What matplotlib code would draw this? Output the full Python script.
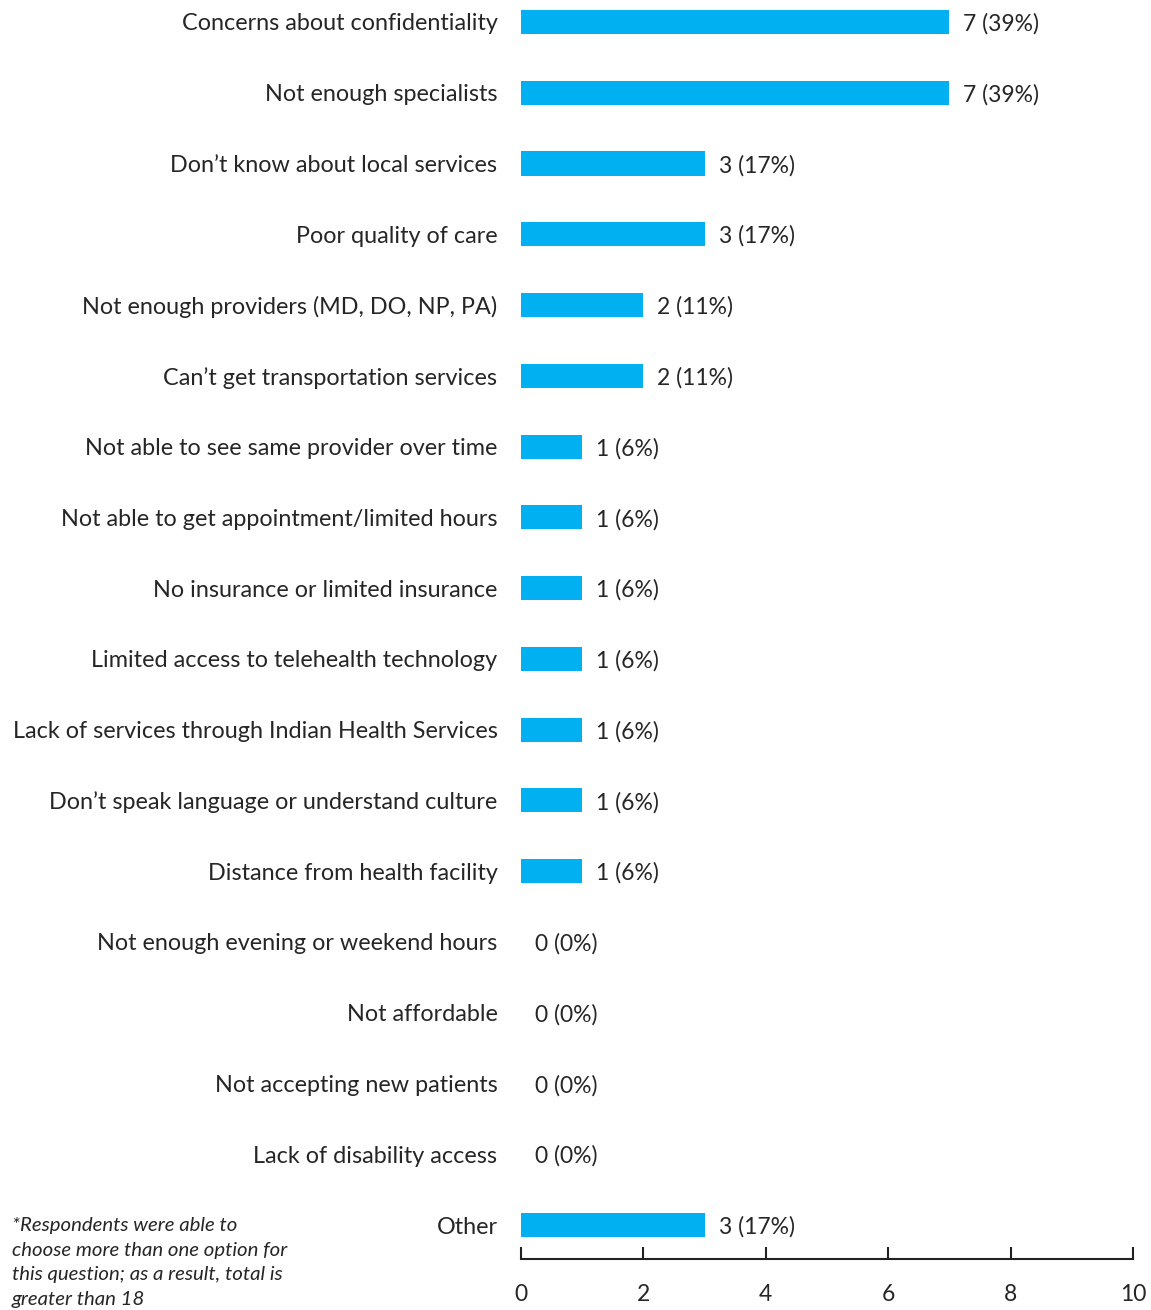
import matplotlib
matplotlib.use("Agg")
import matplotlib.pyplot as plt
from matplotlib.transforms import offset_copy

categories = [
    "Concerns about confidentiality",
    "Not enough specialists",
    "Don\u2019t know about local services",
    "Poor quality of care",
    "Not enough providers (MD, DO, NP, PA)",
    "Can\u2019t get transportation services",
    "Not able to see same provider over time",
    "Not able to get appointment/limited hours",
    "No insurance or limited insurance",
    "Limited access to telehealth technology",
    "Lack of services through Indian Health Services",
    "Don\u2019t speak language or understand culture",
    "Distance from health facility",
    "Not enough evening or weekend hours",
    "Not affordable",
    "Not accepting new patients",
    "Lack of disability access",
    "Other",
]
counts = [7, 7, 3, 3, 2, 2, 1, 1, 1, 1, 1, 1, 1, 0, 0, 0, 0, 3]
percents = [39, 39, 17, 17, 11, 11, 6, 6, 6, 6, 6, 6, 6, 0, 0, 0, 0, 17]
xticks = [0, 2, 4, 6, 8, 10]
footnote = ("*Respondents were able to\nchoose more than one option for\n"
            "this question; as a result, total is\ngreater than 18")

plt.rcParams['font.family'] = ['Lato', 'DejaVu Sans']
W, H = 1151, 1310
fig = plt.figure(figsize=(W / 100, H / 100), dpi=100)
ax = fig.add_axes([521 / W, 51 / H, 612 / W, 1259 / H])

pos = list(range(len(categories)))
ax.barh(pos, counts, height=0.34, color="#00B0F0")
ax.set_xlim(0, 10)
ax.set_ylim(17.48, -0.31)

for p, c, pc in zip(pos, counts, percents):
    tr = offset_copy(ax.transData, fig=fig, x=14, y=0, units='dots')
    ax.text(c, p, f"{c} ({pc}%)", transform=tr, ha='left', va='center_baseline',
            fontsize=16.5, color="#262626")

ax.set_yticks(pos)
ax.set_yticklabels(categories, fontsize=16.8, color="#262626",
                   va='center_baseline')
ax.tick_params(axis='y', length=0, pad=17)
ax.set_xticks(xticks)
ax.set_xticklabels([str(t) for t in xticks], fontsize=16.5, color="#262626")
ax.tick_params(axis='x', direction='in', length=9, width=1.5, pad=18, color="#222222")

for s in ['top', 'right', 'left']:
    ax.spines[s].set_visible(False)
ax.spines['bottom'].set_linewidth(1.5)
ax.spines['bottom'].set_color("#222222")

fig.text(12 / W, 1 - 1217 / H, footnote, ha='left', va='top', fontsize=14.7,
         style='italic', color="#262626", linespacing=1.55)

fig.savefig("out.png", dpi=100)
